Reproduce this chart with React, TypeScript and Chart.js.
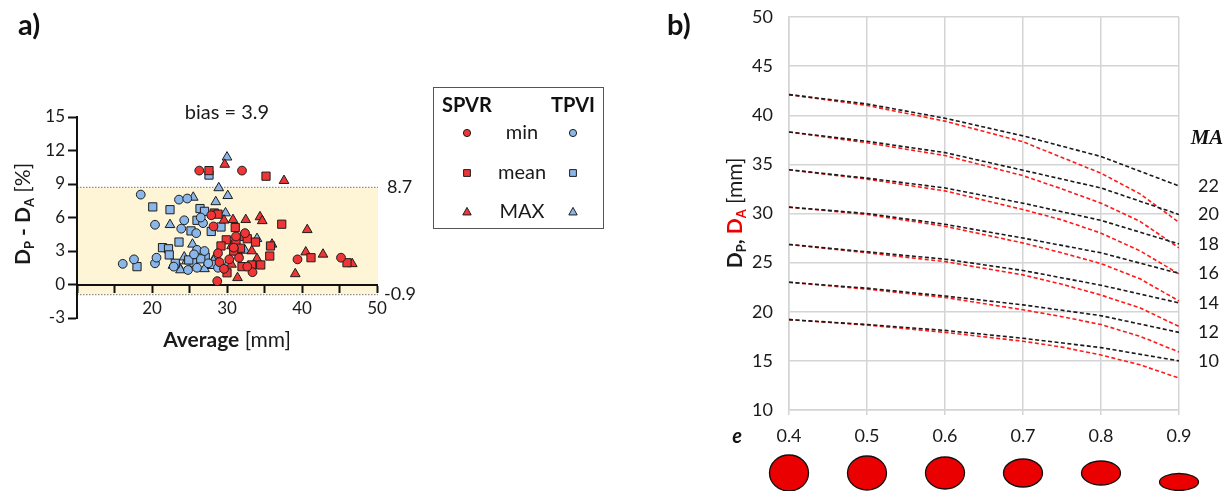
import React, { useEffect, useRef } from 'react';
import { Chart, registerables } from 'chart.js';
Chart.register(...registerables);

// ---------- Panel a data (Bland-Altman) ----------
const spvrMinX = [26.3, 32.0, 28.2, 32.4, 28.8, 30.3, 31.6, 33.4, 28.7, 29.0, 39.4, 45.2, 27.9, 30.9, 29.6, 32.7, 31.2];
const spvrMinY = [10.2, 10.2, 5.2, 4.6, 2.8, 2.25, 2.4, 1.1, 0.3, 2.0, 2.25, 2.4, 6.2, 3.3, 1.4, 1.6, 4.3];
const spvrMeanX = [27.6, 35.2, 28.3, 31.1, 29.9, 31.2, 32.3, 32.7, 31.8, 29.2, 35.8, 35.7, 33.3, 32.0, 30.0, 37.3, 41.2, 46.0, 34.5, 33.8, 28.8, 30.9];
const spvrMeanY = [10.2, 9.7, 6.4, 5.1, 4.0, 3.9, 4.3, 4.1, 3.25, 3.45, 3.45, 2.55, 1.75, 1.6, 1.05, 5.4, 2.4, 1.95, 1.75, 3.8, 6.3, 3.0];
const spvrMaxX = [29.7, 29.6, 30.8, 32.5, 34.4, 34.7, 30.6, 33.3, 30.6, 31.4, 37.6, 40.7, 36.0, 40.5, 42.8, 39.1, 46.7, 34.0, 33.6, 31.4];
const spvrMaxY = [10.75, 5.75, 5.8, 5.8, 6.05, 5.7, 3.45, 3.0, 1.8, 0.6, 9.3, 4.9, 3.6, 2.9, 2.7, 0.95, 1.85, 2.3, 1.7, 2.9];
const tpviMinX = [16.1, 17.6, 18.5, 20.4, 20.6, 20.4, 23.6, 24.7, 24.3, 23.9, 25.9, 26.0, 26.0, 25.6, 26.8, 24.8, 27.5, 28.8, 22.9, 26.5, 27.0];
const tpviMinY = [1.85, 2.25, 8.05, 1.9, 2.4, 5.35, 7.6, 7.7, 5.75, 5.0, 4.6, 1.5, 3.1, 2.7, 5.5, 1.3, 1.9, 1.5, 1.6, 6.0, 3.0];
const tpviMeanX = [18.0, 20.1, 22.4, 21.4, 22.2, 22.3, 23.6, 25.2, 26.0, 25.6, 26.4, 27.0, 27.9, 29.2, 27.1, 27.6, 23.1, 24.9, 28.0, 26.5];
const tpviMeanY = [1.6, 6.95, 6.7, 3.3, 3.2, 2.65, 3.8, 4.8, 5.75, 1.95, 6.8, 6.55, 4.75, 5.15, 2.45, 9.8, 1.9, 2.2, 1.8, 2.3];
const tpviMaxX = [22.4, 25.5, 25.4, 22.8, 23.5, 23.8, 24.3, 24.6, 25.3, 30.0, 28.9, 30.1, 28.5, 29.8, 28.5, 28.2, 30.2, 32.4, 34.0, 27.0];
const tpviMaxY = [5.35, 7.8, 3.6, 1.7, 1.7, 1.3, 2.45, 2.1, 2.4, 11.4, 8.65, 7.95, 7.4, 6.4, 2.55, 2.1, 1.95, 3.05, 4.1, 1.4];

const groupLabels = ['SPVR', 'TPVI'];
const statLabels = ['min', 'mean', 'MAX'];
const bias = 3.9;
const upperLoA = 8.7;
const lowerLoA = -0.9;

// ---------- Panel b data ----------
const eBlack = [0.4, 0.5, 0.6, 0.7, 0.8, 0.9];
const eRed = [0.4, 0.5, 0.6, 0.7, 0.75, 0.8, 0.85, 0.9];
const maLabels = [22, 20, 18, 16, 14, 12, 10];
const dpValues = [
  [42.1, 41.15, 39.7, 37.9, 35.8, 32.8],
  [38.3, 37.35, 36.2, 34.4, 32.6, 29.9],
  [34.45, 33.6, 32.6, 31.05, 29.3, 26.9],
  [30.65, 30.0, 28.9, 27.5, 26.0, 23.9],
  [26.85, 26.1, 25.35, 24.2, 22.7, 20.9],
  [23.0, 22.4, 21.6, 20.7, 19.6, 17.9],
  [19.2, 18.7, 18.1, 17.3, 16.35, 15.0],
];
const daValues = [
  [42.1, 41.0, 39.4, 37.3, 35.7, 34.1, 32.0, 29.1],
  [38.3, 37.2, 35.9, 33.85, 32.5, 31.05, 29.2, 26.5],
  [34.45, 33.5, 32.3, 30.4, 29.35, 28.0, 26.2, 23.85],
  [30.65, 29.9, 28.7, 27.0, 26.0, 24.9, 23.35, 21.1],
  [26.85, 26.0, 25.1, 23.75, 22.8, 21.7, 20.4, 18.5],
  [23.0, 22.3, 21.45, 20.2, 19.5, 18.7, 17.5, 15.9],
  [19.2, 18.65, 17.9, 17.0, 16.4, 15.6, 14.6, 13.25],
];
const ellipseE = [0.4, 0.5, 0.6, 0.7, 0.8, 0.9];
const ellipseHeights = [36, 34, 32, 28, 24, 17];

const RED = '#ef3535';
const BLUE = '#8ab6e9';
const EDGE = '#1e1e1e';
const FONT = 'Lato, "Open Sans", sans-serif';
const TXT = '#1a1a1a';
const GRID = '#d4d4d4';

type Part = { t: string; font: string; color?: string; dy?: number };

function drawParts(ctx: CanvasRenderingContext2D, parts: Part[], cx: number, cy: number, base: number) {
  let total = 0;
  const widths = parts.map((p) => {
    ctx.font = p.font;
    const w = ctx.measureText(p.t).width;
    total += w;
    return w;
  });
  let x = cx - total / 2;
  ctx.textAlign = 'left';
  ctx.textBaseline = 'alphabetic';
  parts.forEach((p, i) => {
    ctx.font = p.font;
    ctx.fillStyle = p.color || TXT;
    ctx.fillText(p.t, x, cy + base + (p.dy || 0));
    x += widths[i];
  });
}

function drawShape(ctx: CanvasRenderingContext2D, kind: string, x: number, y: number, r: number, fill: string) {
  ctx.beginPath();
  if (kind === 'circle') ctx.arc(x, y, r, 0, Math.PI * 2);
  else if (kind === 'rect') ctx.rect(x - r, y - r, 2 * r, 2 * r);
  else {
    ctx.moveTo(x, y - r * 1.1);
    ctx.lineTo(x + r, y + r * 0.7);
    ctx.lineTo(x - r, y + r * 0.7);
    ctx.closePath();
  }
  ctx.fillStyle = fill;
  ctx.fill();
  ctx.lineWidth = 1;
  ctx.strokeStyle = EDGE;
  ctx.stroke();
}

const pts = (xs: number[], ys: number[]) => xs.map((x, i) => ({ x, y: ys[i] }));

const panelAPlugin = {
  id: 'panelA',
  beforeDraw(chart: any) {
    const { ctx, chartArea, scales } = chart;
    const y = scales.y;
    const yt = y.getPixelForValue(upperLoA);
    const yb = y.getPixelForValue(lowerLoA);
    ctx.save();
    ctx.fillStyle = '#fdf5d6';
    ctx.fillRect(chartArea.left, yt, chartArea.right - chartArea.left + 1, yb - yt);
    ctx.strokeStyle = '#8f8f8f';
    ctx.lineWidth = 1.2;
    ctx.setLineDash([1.5, 1.5]);
    [yt, yb].forEach((py) => {
      ctx.beginPath();
      ctx.moveTo(chartArea.left, py);
      ctx.lineTo(chartArea.right + 1, py);
      ctx.stroke();
    });
    ctx.restore();
  },
  afterDraw(chart: any) {
    const { ctx, chartArea, scales } = chart;
    const x = scales.x;
    const y = scales.y;
    ctx.save();
    // bias text
    ctx.font = `20px ${FONT}`;
    ctx.fillStyle = TXT;
    ctx.textAlign = 'center';
    ctx.textBaseline = 'middle';
    ctx.fillText(`bias = ${bias}`, x.getPixelForValue(30), y.getPixelForValue(15) - 4);
    // LoA labels
    ctx.font = `18px ${FONT}`;
    ctx.textAlign = 'left';
    ctx.fillText(String(upperLoA), chartArea.right + 10, y.getPixelForValue(upperLoA));
    ctx.fillText(String(lowerLoA), chartArea.right + 7, y.getPixelForValue(lowerLoA));
    // x title
    drawParts(ctx, [
      { t: 'Average', font: `bold 21px ${FONT}` },
      { t: ' [mm]', font: `21px ${FONT}` },
    ], (chartArea.left + chartArea.right) / 2, 340, 7);
    // y title (rotated)
    ctx.save();
    ctx.translate(23, 214);
    ctx.rotate(-Math.PI / 2);
    drawParts(ctx, [
      { t: 'D', font: `bold 21px ${FONT}` },
      { t: 'P', font: `bold 13px ${FONT}`, dy: 4 },
      { t: ' - D', font: `bold 21px ${FONT}` },
      { t: 'A', font: `bold 13px ${FONT}`, dy: 4 },
      { t: ' [%]', font: `21px ${FONT}` },
    ], 0, 0, 7);
    ctx.restore();
    // legend
    const lx = 433.5, ly = 87.5, lw = 170, lh = 141;
    ctx.strokeStyle = '#555';
    ctx.lineWidth = 1;
    ctx.setLineDash([]);
    ctx.strokeRect(lx, ly, lw, lh);
    ctx.font = `bold 20px ${FONT}`;
    ctx.fillStyle = '#111';
    ctx.textBaseline = 'middle';
    ctx.textAlign = 'left';
    ctx.fillText(groupLabels[0], 442, 106);
    ctx.textAlign = 'right';
    ctx.fillText(groupLabels[1], 595, 106);
    const shapes = ['circle', 'rect', 'triangle'];
    const rowY = [133, 173, 212];
    const sizes = [3.6, 3.4, 4.2];
    statLabels.forEach((lab, i) => {
      ctx.font = `20px ${FONT}`;
      ctx.fillStyle = TXT;
      ctx.textAlign = 'center';
      ctx.textBaseline = 'middle';
      ctx.fillText(lab, 522, rowY[i]);
      drawShape(ctx, shapes[i], 467, rowY[i], sizes[i], RED);
      drawShape(ctx, shapes[i], 573, rowY[i], sizes[i], BLUE);
    });
    ctx.restore();
  },
};

const panelBPlugin = {
  id: 'panelB',
  afterDraw(chart: any) {
    const { ctx, chartArea, scales } = chart;
    const x = scales.x;
    const y = scales.y;
    ctx.save();
    // MA labels at line ends
    ctx.font = `18px ${FONT}`;
    ctx.fillStyle = TXT;
    ctx.textAlign = 'left';
    ctx.textBaseline = 'middle';
    maLabels.forEach((ma, i) => {
      const v = dpValues[i][dpValues[i].length - 1];
      ctx.fillText(String(ma), chartArea.right + 19, y.getPixelForValue(v));
    });
    ctx.font = `bold italic 21px "Liberation Serif", "DejaVu Serif", serif`;
    ctx.textAlign = 'center';
    ctx.fillStyle = '#111';
    ctx.fillText('MA', chartArea.right + 28, 139);
    // e label
    ctx.font = `bold italic 20px ${FONT}`;
    ctx.fillText('e', 77, 437);
    // ellipses
    ellipseE.forEach((e, i) => {
      const cx = x.getPixelForValue(e);
      const h = ellipseHeights[i];
      const cy = i === ellipseE.length - 1 ? chartArea.bottom + 72 : chartArea.bottom + 63;
      ctx.beginPath();
      ctx.ellipse(cx, cy, 19.5, h / 2, 0, 0, Math.PI * 2);
      ctx.fillStyle = '#ea0000';
      ctx.fill();
      ctx.lineWidth = 1.3;
      ctx.strokeStyle = '#111';
      ctx.stroke();
    });
    // y title
    ctx.save();
    ctx.translate(75, 213);
    ctx.rotate(-Math.PI / 2);
    drawParts(ctx, [
      { t: 'D', font: `bold 21px ${FONT}` },
      { t: 'P', font: `bold 13px ${FONT}`, dy: 4 },
      { t: ', ', font: `bold 21px ${FONT}` },
      { t: 'D', font: `bold 21px ${FONT}`, color: '#ee0000' },
      { t: 'A', font: `bold 13px ${FONT}`, dy: 4, color: '#ee0000' },
      { t: ' [mm]', font: `21px ${FONT}` },
    ], 0, 0, 7);
    ctx.restore();
    ctx.restore();
  },
};

export default function App() {
  const refA = useRef<HTMLCanvasElement>(null);
  const refB = useRef<HTMLCanvasElement>(null);

  useEffect(() => {
    const scatterDs = (label: string, xs: number[], ys: number[], style: string, r: number, color: string) => ({
      label,
      data: pts(xs, ys),
      pointStyle: style,
      pointRadius: r,
      backgroundColor: color,
      borderColor: EDGE,
      borderWidth: 1,
    });
    const chartA = new Chart(refA.current as HTMLCanvasElement, {
      type: 'scatter',
      data: {
        datasets: [
          scatterDs('SPVR min', spvrMinX, spvrMinY, 'circle', 4.4, RED),
          scatterDs('SPVR mean', spvrMeanX, spvrMeanY, 'rect', 5.8, RED),
          scatterDs('SPVR MAX', spvrMaxX, spvrMaxY, 'triangle', 5.6, RED),
          scatterDs('TPVI min', tpviMinX, tpviMinY, 'circle', 4.4, BLUE),
          scatterDs('TPVI mean', tpviMeanX, tpviMeanY, 'rect', 5.8, BLUE),
          scatterDs('TPVI MAX', tpviMaxX, tpviMaxY, 'triangle', 5.6, BLUE),
        ] as any,
      },
      options: {
        animation: false,
        responsive: false,
        maintainAspectRatio: false,
        layout: { padding: { left: 0, top: 117, right: 283, bottom: 173 } },
        plugins: { legend: { display: false }, tooltip: { enabled: false } },
        scales: {
          x: {
            type: 'linear',
            position: { y: 0 } as any,
            min: 10,
            max: 50,
            ticks: {
              stepSize: 5,
              autoSkip: false,
              maxRotation: 0,
              padding: 7,
              color: TXT,
              font: { family: FONT, size: 17 },
              callback: (v: any) => (Number(v) % 10 === 0 && Number(v) !== 10 ? String(v) : ''),
            },
            grid: { drawOnChartArea: false, drawTicks: true, tickLength: 7, tickWidth: 2, tickColor: '#111' },
            border: { color: '#111', width: 2 },
          },
          y: {
            min: -3,
            max: 15,
            ticks: { stepSize: 3, padding: 3, color: TXT, font: { family: FONT, size: 17 } },
            grid: { drawOnChartArea: false, drawTicks: true, tickLength: 9, tickWidth: 2, tickColor: '#111' },
            border: { color: '#111', width: 2 },
            afterFit: (s: any) => { s.width = 77; s.paddingTop = 0; s.paddingBottom = 0; },
          },
        },
      } as any,
      plugins: [panelAPlugin],
    });

    const blackSets = dpValues.map((vals, i) => ({
      label: `DP MA ${maLabels[i]}`,
      data: pts(eBlack, vals),
      showLine: true,
      borderColor: '#1a1a1a',
      borderWidth: 1.6,
      borderDash: [4, 2.5],
      pointRadius: 0,
      fill: false,
    }));
    const redSets = daValues.map((vals, i) => ({
      label: `DA MA ${maLabels[i]}`,
      data: pts(eRed, vals),
      showLine: true,
      borderColor: '#ff1a1a',
      borderWidth: 1.6,
      borderDash: [4, 2.5],
      pointRadius: 0,
      fill: false,
    }));
    const chartB = new Chart(refB.current as HTMLCanvasElement, {
      type: 'scatter',
      data: { datasets: [...blackSets, ...redSets] as any },
      options: {
        animation: false,
        responsive: false,
        maintainAspectRatio: false,
        layout: { padding: { left: 0, top: 17, right: 52, bottom: 0 } },
        plugins: { legend: { display: false }, tooltip: { enabled: false } },
        scales: {
          x: {
            type: 'linear',
            min: 0.4,
            max: 0.9,
            ticks: {
              stepSize: 0.1,
              autoSkip: false,
              maxRotation: 0,
              padding: 10,
              color: TXT,
              font: { family: FONT, size: 18 },
              callback: (v: any) => Number(v).toFixed(1),
            },
            grid: { color: GRID, lineWidth: 1.5, drawTicks: true, tickLength: 5 },
            border: { color: GRID, width: 1.5 },
            afterFit: (s: any) => { s.height = 81; s.paddingLeft = 0; s.paddingRight = 0; },
          },
          y: {
            min: 10,
            max: 50,
            ticks: { stepSize: 5, padding: 16, color: TXT, font: { family: FONT, size: 18 } },
            grid: { color: GRID, lineWidth: 1.5, drawTicks: false },
            border: { color: GRID, width: 1.5 },
            afterFit: (s: any) => { s.width = 129; s.paddingTop = 0; s.paddingBottom = 0; },
          },
        },
      } as any,
      plugins: [panelBPlugin],
    });

    return () => {
      chartA.destroy();
      chartB.destroy();
    };
  }, []);

  return (
    <div style={{ position: 'absolute', left: 0, top: 0, width: 1231, height: 491, background: '#ffffff', overflow: 'hidden' }}>
      <canvas ref={refA} width={660} height={491} style={{ position: 'absolute', left: 0, top: 0, width: 660, height: 491 }} />
      <canvas ref={refB} width={571} height={491} style={{ position: 'absolute', left: 660, top: 0, width: 571, height: 491 }} />
      <div style={{ position: 'absolute', left: 18, top: 6, font: `bold 29px ${FONT}`, color: '#111' }}>a)</div>
      <div style={{ position: 'absolute', left: 667, top: 6, font: `bold 29px ${FONT}`, color: '#111' }}>b)</div>
    </div>
  );
}
